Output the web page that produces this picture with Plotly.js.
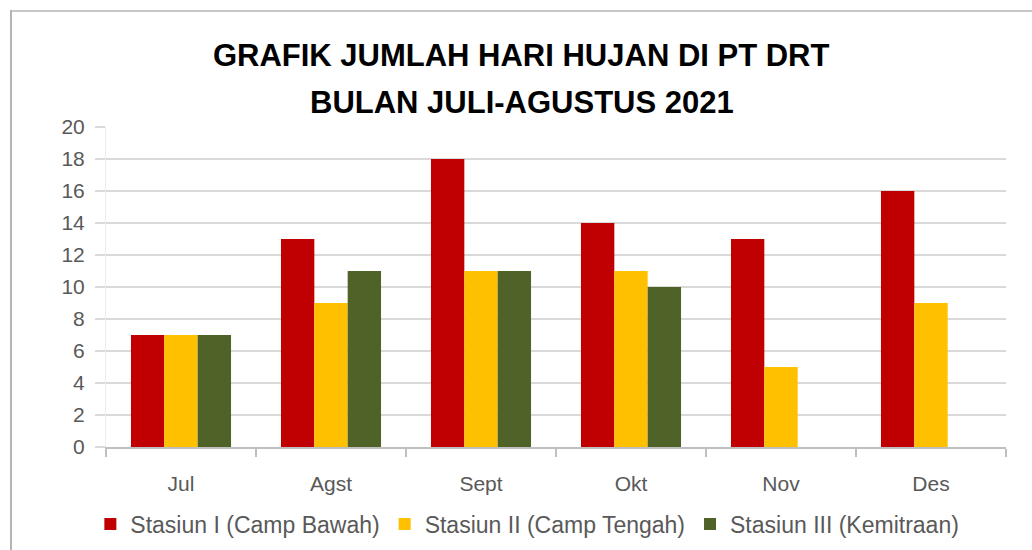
<!DOCTYPE html>
<html>
<head>
<meta charset="utf-8">
<script src="https://cdn.plot.ly/plotly-3.0.1.min.js"></script>
<style>html,body{margin:0;padding:0;background:#fff;}#chart{width:1032px;height:550px;}</style>
</head>
<body>
<div id="chart"></div>
<script>
const categories = ["Jul", "Agst", "Sept", "Okt", "Nov", "Des"];
const seriesNames = ["Stasiun I (Camp Bawah)", "Stasiun II (Camp Tengah)", "Stasiun III (Kemitraan)"];
const stasiun1 = [7, 13, 18, 14, 13, 16];
const stasiun2 = [7, 9, 11, 11, 5, 9];
const stasiun3 = [7, 11, 11, 10, null, null];
const colors = ["#C00000", "#FFC000", "#4F6228"];
const yTicks = [0, 2, 4, 6, 8, 10, 12, 14, 16, 18, 20];
const titleLines = ["GRAFIK JUMLAH HARI HUJAN DI PT DRT", "BULAN JULI-AGUSTUS 2021"];

const FONT = "Liberation Sans, Arial, sans-serif";
const traces = [stasiun1, stasiun2, stasiun3].map((vals, i) => ({
  type: "bar",
  name: seriesNames[i],
  x: categories,
  y: vals,
  marker: {color: colors[i], line: {width: 0}},
  hoverinfo: "x+y+name"
}));

// plot area: x 106..1006, y 127..447 (pixels)
const py = p => (447 - p) / 320;
const px = p => (p - 106) / 900;

const layout = {
  width: 1032, height: 550,
  margin: {l: 106, r: 26, t: 127, b: 103, autoexpand: false},
  paper_bgcolor: "#ffffff",
  plot_bgcolor: "#ffffff",
  barmode: "group",
  bargap: 0.333,
  bargroupgap: 0,
  title: {
    text: "<b>" + titleLines[0] + "</b>",
    font: {family: FONT, size: 31, color: "#000000"},
    x: 0.505, xanchor: "center",
    y: 1 - 55/550, yanchor: "middle"
  },
  annotations: [{
    text: "<b>" + titleLines[1] + "</b>",
    xref: "paper", yref: "paper",
    x: px(522), y: py(102), xanchor: "center", yanchor: "middle",
    showarrow: false,
    font: {family: FONT, size: 31, color: "#000000"}
  }],
  xaxis: {
    type: "category",
    showgrid: false,
    showline: true, linecolor: "#bfbfbf", linewidth: 1.5,
    ticks: "outside", tickson: "boundaries", ticklen: 8, tickcolor: "#bfbfbf", tickwidth: 1.5,
    ticklabelstandoff: 17,
    tickfont: {family: FONT, size: 21, color: "#595959"},
    zeroline: false
  },
  yaxis: {
    range: [0, 20],
    tickvals: yTicks,
    ticktext: yTicks.map(String),
    showgrid: true, gridcolor: "#d9d9d9", gridwidth: 1.5,
    showline: true, linecolor: "#ededed", linewidth: 1,
    ticks: "outside", ticklen: 10, tickcolor: "#d9d9d9", tickwidth: 1.5,
    ticklabelstandoff: 6,
    tickfont: {family: FONT, size: 21, color: "#595959"},
    zeroline: false,
    fixedrange: true
  },
  legend: {
    orientation: "h",
    xref: "container", yref: "container",
    x: 0.511, xanchor: "center",
    y: (550 - 524) / 550, yanchor: "middle",
    font: {family: FONT, size: 23, color: "#595959"},
    itemwidth: 30,
    tracegroupgap: 0
  },
  showlegend: true,
  shapes: [
    {type: "line", xref: "paper", yref: "paper", x0: px(10), x1: px(1040), y0: py(11), y1: py(11), line: {color: "#c8c8c8", width: 2}},
    {type: "line", xref: "paper", yref: "paper", x0: px(11), x1: px(11), y0: py(10), y1: py(560), line: {color: "#b4b4b4", width: 2}}
  ]
};

Plotly.newPlot("chart", traces, layout, {displayModeBar: false, staticPlot: true});
</script>
</body>
</html>
